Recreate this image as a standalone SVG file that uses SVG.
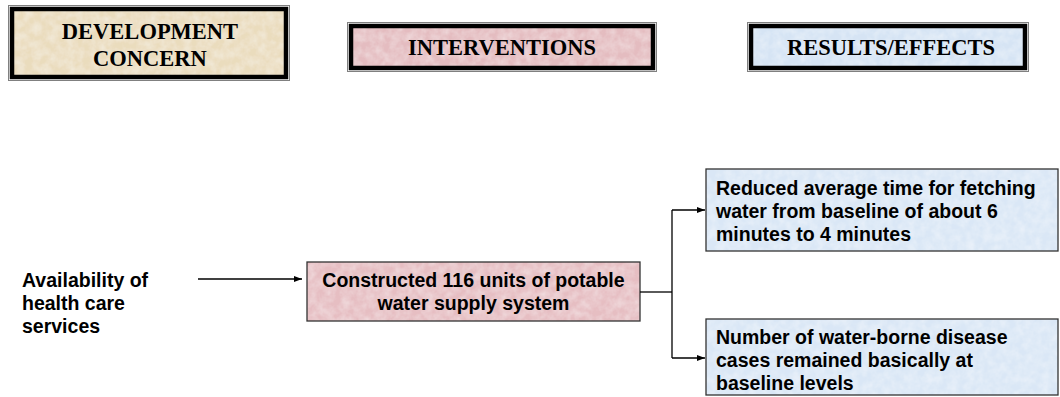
<svg xmlns="http://www.w3.org/2000/svg" width="1060" height="397" viewBox="0 0 1060 397">
<style>
.hd{font-family:"Liberation Serif","Times New Roman",serif;font-weight:bold;font-size:22.5px;fill:#000;text-anchor:middle}
.bt{font-family:"Liberation Sans",Arial,sans-serif;font-weight:bold;font-size:19.5px;fill:#000}
.c{text-anchor:middle}
.outer{fill:#fff;stroke:#808080;stroke-width:1}
.thick{fill:none;stroke:#000;stroke-width:4.5}
.nb{stroke:#333;stroke-width:1.3;fill:none}
.ln{fill:none;stroke:#000;stroke-width:1.3}
</style>
<defs>
<filter id="tex" x="0" y="0" width="100%" height="100%">
<feTurbulence type="fractalNoise" baseFrequency="0.12" numOctaves="3" seed="4" result="n"/>
<feColorMatrix in="n" type="matrix" values="0 0 0 0 1  0 0 0 0 1  0 0 0 0 1  0.6 0 0 0 -0.18" result="w"/>
<feComposite in="w" in2="SourceGraphic" operator="in" result="wi"/>
<feMerge><feMergeNode in="SourceGraphic"/><feMergeNode in="wi"/></feMerge>
</filter>
<marker id="ah" markerWidth="8" markerHeight="6" refX="8" refY="3" orient="auto" markerUnits="userSpaceOnUse">
<path d="M0,0 L8,3 L0,6 Z" fill="#000"/>
</marker>
</defs>

<g id="hdr-concern">
<rect class="outer" x="8.5" y="5.5" width="281" height="75"/>
<rect x="14" y="11" width="270" height="64" fill="#EADCBD" filter="url(#tex)"/>
<rect class="thick" x="12" y="9" width="274" height="68"/>
<text class="hd" x="150" y="39">DEVELOPMENT</text>
<text class="hd" x="150" y="66">CONCERN</text>
</g>

<g id="hdr-interventions">
<rect class="outer" x="347.5" y="22.5" width="309" height="49"/>
<rect x="353" y="28" width="298" height="38" fill="#E4BCC0" filter="url(#tex)"/>
<rect class="thick" x="351" y="26" width="302" height="42"/>
<text class="hd" x="502" y="55">INTERVENTIONS</text>
</g>

<g id="hdr-results">
<rect class="outer" x="747.5" y="22.5" width="281" height="49"/>
<rect x="753" y="28" width="270" height="38" fill="#D6E4F4" filter="url(#tex)"/>
<rect class="thick" x="751" y="26" width="274" height="42"/>
<text class="hd" x="891" y="55">RESULTS/EFFECTS</text>
</g>

<g id="concern">
<text class="bt" x="22" y="287">Availability of</text>
<text class="bt" x="22" y="310">health care</text>
<text class="bt" x="22" y="333">services</text>
</g>

<g id="intervention">
<rect x="307" y="262" width="333" height="59" fill="#E6BEC2" filter="url(#tex)"/>
<rect class="nb" x="307" y="262" width="333" height="59"/>
<text class="bt c" x="473.5" y="287">Constructed 116 units of potable</text>
<text class="bt c" x="473.5" y="310">water supply system</text>
</g>

<g id="result1">
<rect x="706" y="169" width="352" height="82" fill="#DAE7F6" filter="url(#tex)"/>
<rect class="nb" x="706" y="169" width="352" height="82"/>
<text class="bt" x="716" y="195">Reduced average time for fetching</text>
<text class="bt" x="716" y="218">water from baseline of about 6</text>
<text class="bt" x="716" y="241">minutes to 4 minutes</text>
</g>

<g id="result2">
<rect x="706" y="319" width="352" height="76" fill="#DAE7F6" filter="url(#tex)"/>
<rect class="nb" x="706" y="319" width="352" height="76"/>
<text class="bt" x="716" y="344">Number of water-borne disease</text>
<text class="bt" x="716" y="367">cases remained basically at</text>
<text class="bt" x="716" y="390">baseline levels</text>
</g>

<g id="connectors">
<path class="ln" d="M198,279 L302,279" marker-end="url(#ah)"/>
<path class="ln" d="M640,292 L672,292"/>
<path class="ln" d="M672,210 L672,358"/>
<path class="ln" d="M672,210 L705,210" marker-end="url(#ah)"/>
<path class="ln" d="M672,358 L705,358" marker-end="url(#ah)"/>
</g>
</svg>
